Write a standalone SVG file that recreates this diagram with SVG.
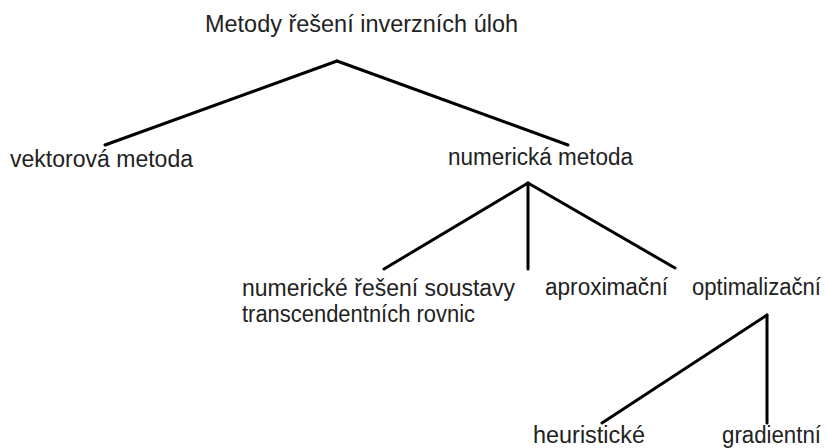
<svg xmlns="http://www.w3.org/2000/svg" width="826" height="448" viewBox="0 0 826 448">
<style>
text{font-family:"Liberation Sans",Arial,sans-serif;font-size:23px;fill:#222}
.c line{stroke:#000;stroke-width:3;stroke-linecap:round}
</style>
<rect width="826" height="448" fill="#fff"/>
<g class="c" id="connectors">
<line x1="337" y1="61" x2="105" y2="145"/>
<line x1="337" y1="61" x2="568" y2="145"/>
<line x1="528" y1="183" x2="384" y2="269"/>
<line x1="528" y1="183" x2="528" y2="269"/>
<line x1="528" y1="183" x2="675" y2="268"/>
<line x1="767" y1="315" x2="602" y2="423"/>
<line x1="767" y1="315" x2="767" y2="423"/>
</g>
<g id="root"><text x="205" y="32" textLength="313" lengthAdjust="spacingAndGlyphs">Metody řešení inverzních úloh</text></g>
<g id="vektorova"><text x="10" y="167" textLength="183" lengthAdjust="spacingAndGlyphs">vektorová metoda</text></g>
<g id="numericka"><text x="448" y="165" textLength="185" lengthAdjust="spacingAndGlyphs">numerická metoda</text></g>
<g id="soustavy"><text x="242" y="296" textLength="273" lengthAdjust="spacingAndGlyphs">numerické řešení soustavy</text><text x="242" y="322" textLength="233" lengthAdjust="spacingAndGlyphs">transcendentních rovnic</text></g>
<g id="aproximacni"><text x="545" y="295" textLength="123" lengthAdjust="spacingAndGlyphs">aproximační</text></g>
<g id="optimalizacni"><text x="692" y="295" textLength="129" lengthAdjust="spacingAndGlyphs">optimalizační</text></g>
<g id="heuristicke"><text x="533" y="443" textLength="112" lengthAdjust="spacingAndGlyphs">heuristické</text></g>
<g id="gradientni"><text x="722" y="443" textLength="99" lengthAdjust="spacingAndGlyphs">gradientní</text></g>
</svg>
